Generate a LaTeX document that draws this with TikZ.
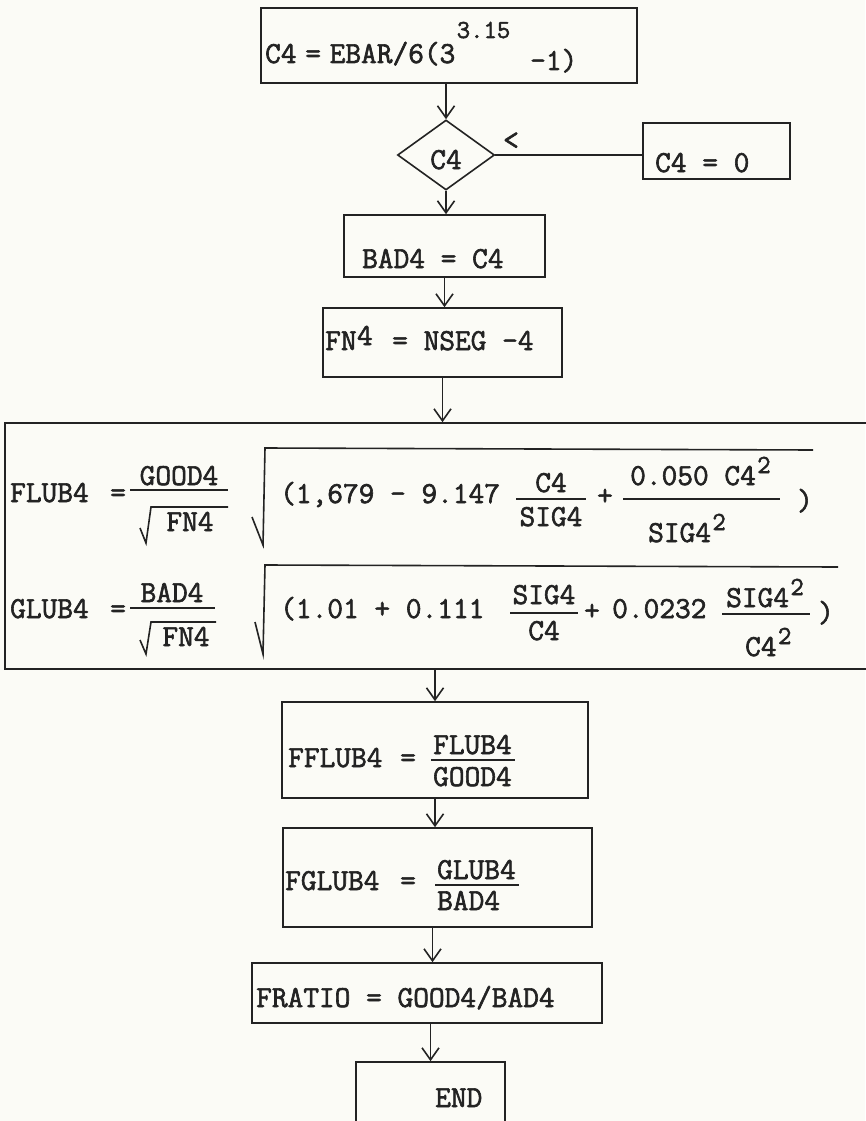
\documentclass[tikz,border=0pt]{standalone}
\usepackage{fontspec}
\newfontfamily\tw{Latin Modern Mono}[FakeBold=2]
\usetikzlibrary{shapes.geometric,arrows.meta}
\definecolor{ink}{RGB}{35,35,35}
\definecolor{paper}{RGB}{251,251,246}
\begin{document}
\begin{tikzpicture}[x=1pt,y=-1pt,
  box/.style={draw=ink,line width=1.6pt,rectangle,inner sep=0pt},
  txt/.style={inner sep=0pt,anchor=base west,text=ink,font=\tw\fontsize{30.5}{34}\selectfont},
  ctxt/.style={txt,anchor=base},
  sup/.style={txt,font=\tw\fontsize{26}{30}\selectfont},
  arr/.style={draw=ink,line width=1.6pt,-{Straight Barb[length=12pt,width=17pt,line width=1.6pt]}},
  ln/.style={draw=ink,line width=1.6pt},
  ]
\fill[paper] (0,0) rectangle (865,1121);
\useasboundingbox (0,0) rectangle (865,1121);

% ---------- boxes ----------
\node[box,minimum width=376pt,minimum height=75pt] (top) at (449,45.5) {};
\node[draw=ink,line width=1.6pt,diamond,aspect=1.4,inner sep=0pt,minimum width=97pt,minimum height=70pt] (dia) at (446,155) {};
\node[box,minimum width=147pt,minimum height=56pt] (zero) at (716.5,151) {};
\node[box,minimum width=201pt,minimum height=62pt] (bad) at (444.5,246) {};
\node[box,minimum width=239pt,minimum height=69pt] (fn) at (442.5,342.5) {};
\node[box,minimum width=880pt,minimum height=246pt] (big) at (445,546) {};
\node[box,minimum width=306pt,minimum height=96pt] (ffl) at (435,750) {};
\node[box,minimum width=309pt,minimum height=99pt] (fgl) at (437.5,877.5) {};
\node[box,minimum width=350pt,minimum height=60pt] (fr) at (427,993) {};
\node[box,minimum width=149pt,minimum height=70pt] (end) at (430.5,1097) {};

% ---------- texts ----------
\node[txt] (t1) at (265,63) {C4\hspace{-7pt} = \hspace{-7pt}EBAR/6(3};
\node[sup] (t1s) at (t1.base east) [yshift=25pt,xshift=1pt] {3.15};
\node[txt] (t1b) at (530,70) {-1)};
\node[ctxt] (tdia) at (446,169) {C4};
\node[txt,anchor=center] (tlt) at (511,141) {<};
\node[txt] (tzero) at (655,172) {C4 = 0};
\node[txt] (tbad) at (362,268) {BAD4 = C4};
\node[txt] (tfnA) at (325,350) {FN};
\node[txt] (tfnB) at (tfnA.base east) [yshift=5pt] {4};
\node[txt] (tfnC) at (392,350) {= NSEG -4};

% FLUB4 row
\node[txt] (fl1) at (10,502) {FLUB4};
\node[txt] (fl2) at (110,502) {=};
\node[ctxt] (fl3) at (179,485) {GOOD4};
\draw[ln] (130,490) -- (228,490);
\draw[ln] (140,528) -- (146,543) -- (151,507) -- (228,507);
\node[ctxt] (fl4) at (190,531) {FN4};
\draw[ln] (252,517) -- (263,545) -- (265,448) -- (813,450);
\node[txt] (fl5) at (280,503) {(1,679 - 9.147};
\node[ctxt] (fl6) at (551,492) {C4};
\draw[ln] (516,499) -- (586,499);
\node[ctxt] (fl7) at (551,526) {SIG4};
\node[ctxt] (fl8) at (605,505) {+};
\node[txt] (fl9) at (630,485) {0.050 C4};
\node[sup] (fl10) at (fl9.base east) [yshift=12pt,xshift=1pt] {2};
\draw[ln] (623,499) -- (780,499);
\node[txt] (fl11) at (648,542) {SIG4};
\node[sup] (fl12) at (fl11.base east) [yshift=12pt,xshift=1pt] {2};
\node[txt] (fl13) at (797,510) {)};

% GLUB4 row
\node[txt] (gl1) at (10,618) {GLUB4};
\node[txt] (gl2) at (110,618) {=};
\node[ctxt] (gl3) at (172,602) {BAD4};
\draw[ln] (130,608) -- (215,608);
\draw[ln] (140,640) -- (146,654) -- (151,622) -- (216,622);
\node[ctxt] (gl4) at (186,646) {FN4};
\draw[ln] (255,622) -- (263,654) -- (265,565) -- (838,567);
\node[txt] (gl5) at (280,618) {(1.01 + 0.111};
\node[ctxt] (gl6) at (544,604) {SIG4};
\draw[ln] (510,613) -- (578,613);
\node[ctxt] (gl7) at (544,640) {C4};
\node[ctxt] (gl8) at (592,620) {+};
\node[txt] (gl9) at (612,618) {0.0232};
\node[txt] (gl10) at (726,607) {SIG4};
\node[sup] (gl11) at (gl10.base east) [yshift=12pt,xshift=1pt] {2};
\draw[ln] (722,614) -- (810,614);
\node[txt] (gl12) at (745,656) {C4};
\node[sup] (gl13) at (gl12.base east) [yshift=12pt,xshift=1pt] {2};
\node[txt] (gl14) at (818,622) {)};

% lower boxes
\node[txt] (ff1) at (288,767) {FFLUB4};
\node[txt] (ff2) at (400,767) {=};
\node[txt] (ff3) at (433,754) {FLUB4};
\draw[ln] (431,760) -- (515,760);
\node[txt] (ff4) at (433,786) {GOOD4};

\node[txt] (fg1) at (285,890) {FGLUB4};
\node[txt] (fg2) at (400,890) {=};
\node[txt] (fg3) at (437,879) {GLUB4};
\draw[ln] (435,885) -- (519,885);
\node[txt] (fg4) at (437,910) {BAD4};

\node[txt] (frt) at (256,1007) {FRATIO = GOOD4/BAD4};
\node[txt] (endt) at (435,1107) {END};

% ---------- connectors ----------
\draw[arr] (dia.north |- top.south) -- (dia.north);
\draw[ln] (dia.east) -- (dia.east -| zero.west);
\draw[arr] (dia.south) -- (dia.south |- bad.north);
\draw[arr] (bad.south) -- (bad.south |- fn.north);
\draw[arr] (fn.south) -- (fn.south |- big.north);
\draw[arr] (ffl.north |- big.south) -- (ffl.north);
\draw[arr] (ffl.south) -- (ffl.south |- fgl.north);
\draw[arr] ([xshift=-5pt]fgl.south) -- ([xshift=-5pt]fgl.south |- fr.north);
\draw[arr] (end.north |- fr.south) -- (end.north);
\end{tikzpicture}
\end{document}
